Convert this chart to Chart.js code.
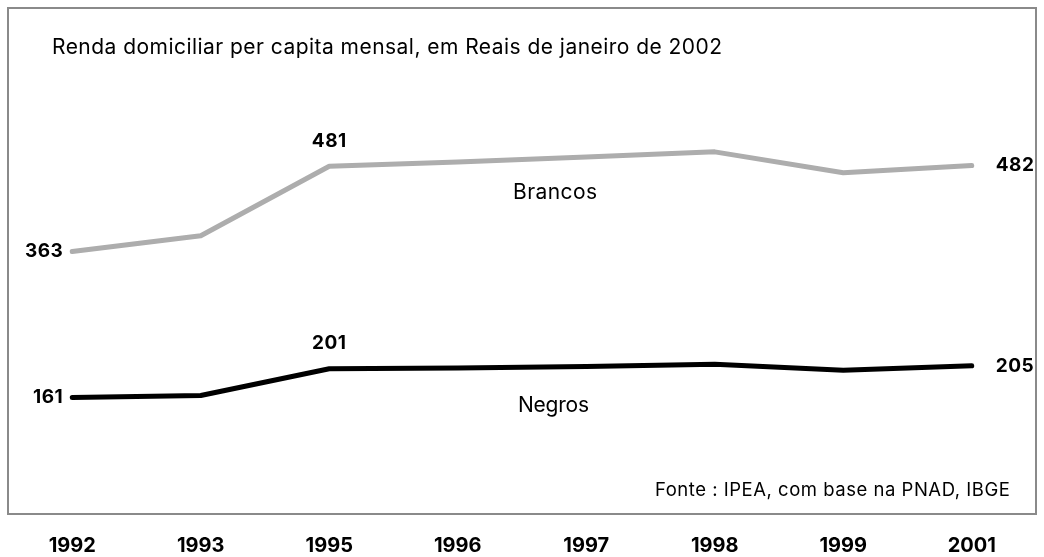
<!DOCTYPE html>
<html>
<head>
<meta charset="utf-8">
<script src="https://cdn.jsdelivr.net/npm/chart.js@4.4.1/dist/chart.umd.min.js"></script>
<style>
  html, body { margin: 0; padding: 0; background: #ffffff; }
  #wrap { width: 1044px; height: 557px; position: relative; }
</style>
</head>
<body>
<div id="wrap"><canvas id="c" width="1044" height="557"></canvas></div>
<script>
// Renda domiciliar per capita mensal (R$ de janeiro de 2002)
const anos = ['1992', '1993', '1995', '1996', '1997', '1998', '1999', '2001'];
const brancos = [363, 385, 481, 487, 494, 501, 472, 482];
const negros = [161, 164, 201, 202, 204, 207, 199, 205];
const titulo = 'Renda domiciliar per capita mensal, em Reais de janeiro de 2002';
const fonte = 'Fonte : IPEA, com base na PNAD, IBGE';

const FONT = 'Inter, "Noto Sans", sans-serif';

// Which points carry a value label, and where the label sits relative to the point
const rotulos = [
  { serie: 0, idx: 0, pos: 'left' },
  { serie: 0, idx: 2, pos: 'above' },
  { serie: 0, idx: 7, pos: 'right' },
  { serie: 1, idx: 0, pos: 'left' },
  { serie: 1, idx: 2, pos: 'above' },
  { serie: 1, idx: 7, pos: 'right' }
];

// draw a string fitted to a given width (left edge x)
function textoLargura(ctx, txt, x, y, largura) {
  ctx.letterSpacing = '0px';
  const w = ctx.measureText(txt).width;
  const extra = (largura - w) / Math.max(1, txt.length - 1);
  ctx.letterSpacing = extra.toFixed(2) + 'px';
  ctx.textAlign = 'left';
  ctx.fillText(txt, x, y);
  ctx.letterSpacing = '0px';
}

const decoracao = {
  id: 'decoracao',
  afterDatasetsDraw(chart) {
    const { ctx, chartArea: a } = chart;
    ctx.save();
    // frame around the plot area
    ctx.strokeStyle = '#8a8a8a';
    ctx.lineWidth = 2;
    ctx.strokeRect(a.left, a.top, a.right - a.left, a.bottom - a.top);

    ctx.fillStyle = '#000';
    ctx.textBaseline = 'middle';

    // title
    ctx.font = '21px ' + FONT;
    textoLargura(ctx, titulo, 52, 48, 670);

    // series names
    textoLargura(ctx, 'Brancos', 513, 193, 84);
    textoLargura(ctx, 'Negros', 518, 406, 71);

    // source
    ctx.font = '18.5px ' + FONT;
    textoLargura(ctx, fonte, 655, 490, 355);

    // value labels
    ctx.font = 'bold 19px ' + FONT;
    ctx.letterSpacing = '0.5px';
    rotulos.forEach(r => {
      const el = chart.getDatasetMeta(r.serie).data[r.idx];
      const v = chart.data.datasets[r.serie].data[r.idx];
      let x = el.x, y = el.y;
      if (r.pos === 'left') { ctx.textAlign = 'right'; x -= 9; }
      else if (r.pos === 'right') { ctx.textAlign = 'left'; x += 24; }
      else { ctx.textAlign = 'center'; y -= 25; }
      ctx.fillText(String(v), x, y);
    });
    ctx.restore();
  }
};

new Chart(document.getElementById('c'), {
  type: 'line',
  data: {
    labels: anos,
    datasets: [
      { label: 'Brancos', data: brancos, borderColor: '#adadad', borderWidth: 5,
        pointRadius: 0, tension: 0, borderCapStyle: 'round', borderJoinStyle: 'round' },
      { label: 'Negros', data: negros, borderColor: '#000000', borderWidth: 5,
        pointRadius: 0, tension: 0, borderCapStyle: 'round', borderJoinStyle: 'round' }
    ]
  },
  options: {
    responsive: false,
    animation: false,
    layout: { padding: { left: 8, right: 8, top: 8, bottom: 0 } },
    plugins: { legend: { display: false }, tooltip: { enabled: false } },
    scales: {
      x: {
        offset: true,
        grid: { display: false, drawTicks: false },
        border: { display: false },
        ticks: { color: '#000', font: { family: FONT, size: 20, weight: 'bold' }, padding: 20, maxRotation: 0 },
        afterFit(scale) { scale.height = 43; }
      },
      y: { display: false, min: 0, max: 700 }
    }
  },
  plugins: [decoracao]
});
</script>
</body>
</html>
